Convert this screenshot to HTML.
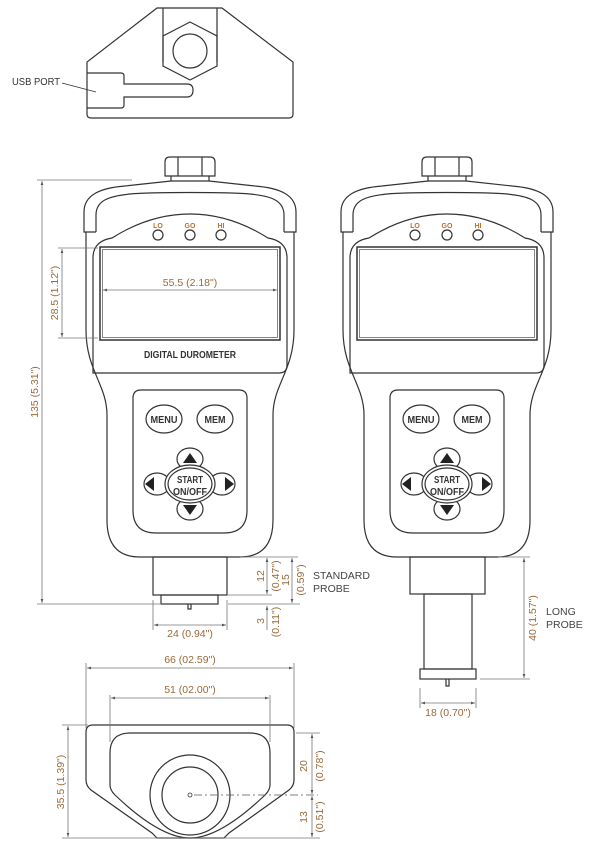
<!DOCTYPE html>
<html><head><meta charset="utf-8"><style>
html,body{margin:0;padding:0;background:#fff;width:615px;height:847px;overflow:hidden}
svg{display:block}
.l{fill:none;stroke:#333;stroke-width:1.2}
.d{fill:none;stroke:#777;stroke-width:0.8}
.t{font-family:"Liberation Sans",sans-serif;font-size:10.5px;fill:#9a6a3a}
.b{font-family:"Liberation Sans",sans-serif;font-weight:bold;fill:#333}
.o{font-family:"Liberation Sans",sans-serif;font-weight:bold;font-size:7px;fill:#c0702a}
</style></head><body>
<svg width="615" height="847" viewBox="0 0 615 847" xmlns="http://www.w3.org/2000/svg">
<defs>
<marker id="a" viewBox="0 0 6 6" refX="6" refY="3" markerWidth="5" markerHeight="5" orient="auto-start-reverse"><path d="M0,1 L6,3 L0,5z" fill="#555"/></marker>
<g id="dev">
 <path class="l" d="M165 176 L165 162 Q165 157 170 157 L210 157 Q215 157 215 162 L215 176 Z"/>
 <line class="l" x1="178" y1="157" x2="178" y2="176"/><line class="l" x1="202" y1="157" x2="202" y2="176"/>
 <path class="l" d="M171 176 L171 181 L209 181 L209 176"/>
 <path class="l" d="M96 232 L84 232 L84 212 C84 195 100 188 125 186 L171 181 M209 181 L255 186 C280 188 296 195 296 212 L296 232 L284 232"/>
 <path class="l" d="M96 232 L96 215 C96 200 110 196 130 194 C150 192 230 192 250 194 C270 196 284 200 284 215 L284 232"/>
 <path class="l" d="M86 232 L86 330 C86 370 107 385 107 415 L107 520 Q107 557 140 557 L240 557 Q273 557 273 520 L273 415 C273 385 294 370 294 330 L294 232"/>
 <path class="l" d="M93 373 L93 258 Q93 241 112 238 Q150 214 190 214 Q230 214 268 238 Q287 241 287 258 L287 365 Q287 373 279 373 Z"/>
 <rect class="l" x="100" y="247" width="180" height="93" style="stroke-width:1.5"/>
 <rect class="l" x="102.5" y="249.5" width="175" height="88" style="stroke-width:0.6"/>
 <circle class="l" cx="158" cy="235" r="5"/><circle class="l" cx="190" cy="235" r="5"/><circle class="l" cx="221" cy="235" r="5"/>
 <text class="o" x="158" y="228" text-anchor="middle">LO</text>
 <text class="o" x="190" y="228" text-anchor="middle">GO</text>
 <text class="o" x="221" y="228" text-anchor="middle">HI</text>
 <path class="l" d="M133 398 Q133 390 141 390 L239 390 Q247 390 247 398 L247 510 Q247 533 224 533 L156 533 Q133 533 133 510 Z"/>
 <ellipse class="l" cx="164" cy="419" rx="18" ry="14"/><ellipse class="l" cx="215" cy="419" rx="18" ry="14"/>
 <text class="b" x="164" y="423" font-size="10" text-anchor="middle" textLength="27" lengthAdjust="spacingAndGlyphs">MENU</text>
 <text class="b" x="215" y="423" font-size="10" text-anchor="middle" textLength="21" lengthAdjust="spacingAndGlyphs">MEM</text>
 <ellipse class="l" cx="190" cy="459" rx="13" ry="11"/><ellipse class="l" cx="190" cy="509" rx="13" ry="11"/>
 <ellipse class="l" cx="157" cy="484" rx="13" ry="11"/><ellipse class="l" cx="222" cy="484" rx="13" ry="11"/>
 <ellipse cx="190" cy="484" rx="25" ry="19" fill="#fff" stroke="#333" stroke-width="1.2"/>
 <ellipse class="l" cx="190" cy="484" rx="22" ry="16"/>
 <path d="M183 463 L197 463 L190 453Z M183 505 L197 505 L190 515Z M154 477 L154 491 L145 484Z M225 477 L225 491 L234 484Z" fill="#222"/>
 <text class="b" x="190" y="483" font-size="10" text-anchor="middle" textLength="26" lengthAdjust="spacingAndGlyphs">START</text>
 <text class="b" x="190" y="495" font-size="10" text-anchor="middle" textLength="34" lengthAdjust="spacingAndGlyphs">ON/OFF</text>
</g>
</defs>

<path class="l" d="M157 8 L222 8 L293 62 L293 114 Q293 118 289 118 L91 118 Q87 118 87 114 L87 62 Z"/>
<line class="l" x1="163" y1="8" x2="163" y2="62"/><line class="l" x1="217" y1="8" x2="217" y2="62"/>
<polygon class="l" points="190,22 217,36 217,66 190,80 163,66 163,36"/>
<circle class="l" cx="190" cy="51" r="17"/>
<path class="l" d="M87 73 L121 73 Q124 73 124 76 L124 84 L187 84 Q193 84 193 90 Q193 97 187 97 L124 97 L124 105 Q124 108 121 108 L87 108"/>
<text x="12" y="85" class="t" style="fill:#333;font-size:10px" textLength="48" lengthAdjust="spacingAndGlyphs">USB PORT</text>
<line x1="62" y1="83" x2="96" y2="92" stroke="#333" stroke-width="0.8"/>

<use href="#dev"/>
<use href="#dev" x="257"/>

<text class="b" x="190" y="358" font-size="10" text-anchor="middle" textLength="92" lengthAdjust="spacingAndGlyphs">DIGITAL DUROMETER</text>
<line class="d" x1="103" y1="290" x2="277" y2="290" marker-start="url(#a)" marker-end="url(#a)"/>
<text class="t" x="190" y="286" text-anchor="middle">55.5 (2.18")</text>

<rect class="l" x="153" y="557" width="74" height="38"/>
<rect class="l" x="161" y="595" width="57" height="9"/>
<path class="l" d="M188 604 L188 609 L191 609 L191 604"/>
<rect class="l" x="410" y="557" width="75" height="37"/>
<rect class="l" x="424" y="594" width="48" height="75"/>
<rect class="l" x="420" y="669" width="56" height="10"/>
<path class="l" d="M446 679 L446 686 L449 686 L449 679"/>

<line class="d" x1="37" y1="180" x2="132" y2="180"/>
<line class="d" x1="37" y1="604" x2="160" y2="604"/>
<line class="d" x1="42" y1="181" x2="42" y2="603" marker-start="url(#a)" marker-end="url(#a)"/>
<text class="t" transform="translate(38,392) rotate(-90)" text-anchor="middle">135 (5.31")</text>
<line class="d" x1="58" y1="248" x2="98" y2="248"/><line class="d" x1="58" y1="338" x2="98" y2="338"/>
<line class="d" x1="62" y1="249" x2="62" y2="337" marker-start="url(#a)" marker-end="url(#a)"/>
<text class="t" transform="translate(58,293) rotate(-90)" text-anchor="middle">28.5 (1.12")</text>

<line class="d" x1="240" y1="557" x2="298" y2="557"/>
<line class="d" x1="228" y1="604" x2="300" y2="604"/>
<line class="d" x1="267" y1="558" x2="267" y2="594" marker-start="url(#a)" marker-end="url(#a)"/>
<line class="d" x1="228" y1="595" x2="272" y2="595"/>
<line class="d" x1="292" y1="558" x2="292" y2="603" marker-start="url(#a)" marker-end="url(#a)"/>
<line class="d" x1="267" y1="606" x2="267" y2="630" marker-start="url(#a)"/>
<text class="t" transform="translate(264,576) rotate(-90)" text-anchor="middle">12</text>
<text class="t" transform="translate(279,576) rotate(-90)" text-anchor="middle">(0.47")</text>
<text class="t" transform="translate(289,580) rotate(-90)" text-anchor="middle">15</text>
<text class="t" transform="translate(304,580) rotate(-90)" text-anchor="middle">(0.59")</text>
<text class="t" transform="translate(264,621) rotate(-90)" text-anchor="middle">3</text>
<text class="t" transform="translate(279,622) rotate(-90)" text-anchor="middle">(0.11")</text>
<text class="t" x="313" y="579" style="fill:#444">STANDARD</text>
<text class="t" x="313" y="592" style="fill:#444">PROBE</text>
<line class="d" x1="153" y1="600" x2="153" y2="630"/><line class="d" x1="227" y1="600" x2="227" y2="630"/>
<line class="d" x1="154" y1="625" x2="226" y2="625" marker-start="url(#a)" marker-end="url(#a)"/>
<text class="t" x="190" y="637" text-anchor="middle">24 (0.94")</text>

<line class="d" x1="498" y1="557" x2="530" y2="557"/><line class="d" x1="480" y1="679" x2="530" y2="679"/>
<line class="d" x1="524" y1="558" x2="524" y2="678" marker-start="url(#a)" marker-end="url(#a)"/>
<text class="t" transform="translate(536,618) rotate(-90)" text-anchor="middle">40 (1.57")</text>
<text class="t" x="546" y="615" style="fill:#444">LONG</text>
<text class="t" x="546" y="628" style="fill:#444">PROBE</text>
<line class="d" x1="420" y1="688" x2="420" y2="708"/><line class="d" x1="476" y1="688" x2="476" y2="708"/>
<line class="d" x1="421" y1="703" x2="475" y2="703" marker-start="url(#a)" marker-end="url(#a)"/>
<text class="t" x="448" y="716" text-anchor="middle">18 (0.70")</text>

<path class="l" d="M93 725 L287 725 Q294 725 294 732 L294 780 Q294 786 289 790 L229 833 L224 838 L157 838 L152 833 L91 790 Q86 786 86 780 L86 732 Q86 725 93 725 Z"/>
<path class="l" d="M130 733 L250 733 Q270 733 270 753 L270 785 Q270 790 265 795 Q220 838 190 838 Q160 838 115 795 Q110 790 110 785 L110 753 Q110 733 130 733 Z"/>
<circle class="l" cx="190" cy="795" r="40"/><circle class="l" cx="190" cy="795" r="28"/>
<circle class="l" cx="190" cy="795" r="2" style="stroke-width:0.8"/>
<line x1="194" y1="795" x2="318" y2="795" stroke="#555" stroke-width="0.8" stroke-dasharray="8,3,2,3"/>
<line class="d" x1="86" y1="663" x2="86" y2="728"/><line class="d" x1="294" y1="663" x2="294" y2="728"/>
<line class="d" x1="87" y1="668" x2="293" y2="668" marker-start="url(#a)" marker-end="url(#a)"/>
<text class="t" x="190" y="663" text-anchor="middle">66 (02.59")</text>
<line class="d" x1="110" y1="695" x2="110" y2="742"/><line class="d" x1="270" y1="695" x2="270" y2="742"/>
<line class="d" x1="111" y1="698" x2="269" y2="698" marker-start="url(#a)" marker-end="url(#a)"/>
<text class="t" x="190" y="693" text-anchor="middle">51 (02.00")</text>
<line class="d" x1="62" y1="725" x2="88" y2="725"/>
<line class="d" x1="62" y1="838" x2="320" y2="838"/>
<line class="d" x1="68" y1="726" x2="68" y2="837" marker-start="url(#a)" marker-end="url(#a)"/>
<text class="t" transform="translate(64,782) rotate(-90)" text-anchor="middle">35.5 (1.39")</text>
<line class="d" x1="296" y1="733" x2="320" y2="733"/>
<line class="d" x1="312" y1="734" x2="312" y2="794" marker-start="url(#a)" marker-end="url(#a)"/>
<line class="d" x1="312" y1="796" x2="312" y2="837" marker-start="url(#a)" marker-end="url(#a)"/>
<text class="t" transform="translate(307,766) rotate(-90)" text-anchor="middle">20</text>
<text class="t" transform="translate(323,766) rotate(-90)" text-anchor="middle">(0.78")</text>
<text class="t" transform="translate(307,817) rotate(-90)" text-anchor="middle">13</text>
<text class="t" transform="translate(323,817) rotate(-90)" text-anchor="middle">(0.51")</text>
</svg>
</body></html>
